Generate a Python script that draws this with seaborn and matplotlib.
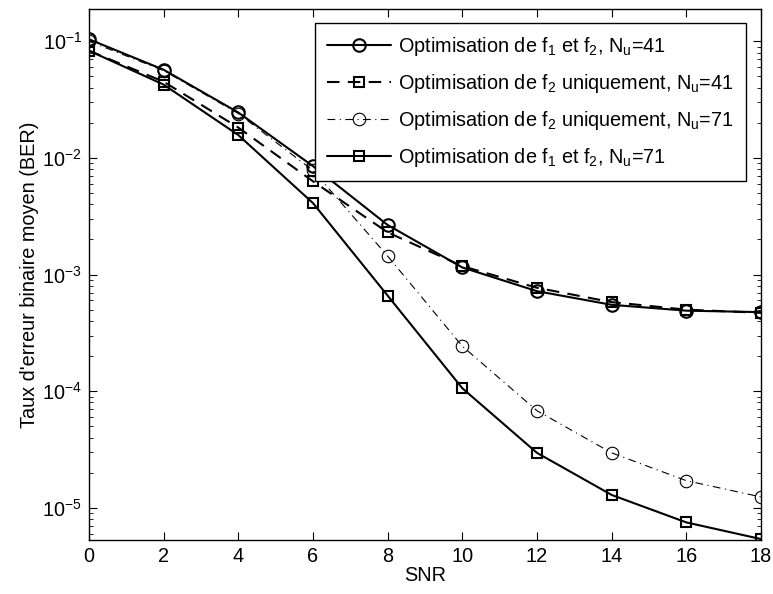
import matplotlib
matplotlib.use("Agg")
import matplotlib.pyplot as plt
import seaborn as sns
import numpy as np
from matplotlib.ticker import LogLocator, FixedLocator

# SNR points
snr = [0, 2, 4, 6, 8, 10, 12, 14, 16, 18]

# Bit error rates per configuration
ber_f1f2_nu41 = [0.104, 0.057, 0.0245, 0.0085, 0.00266, 0.00115, 0.00072, 0.00055, 0.00049, 0.000476]
ber_f2_nu41 = [0.083, 0.045, 0.0182, 0.0063, 0.0023, 0.00118, 0.00077, 0.00058, 0.000500, 0.00047]
ber_f2_nu71 = [0.100, 0.056, 0.024, 0.0078, 0.00144, 0.000243, 6.8e-5, 2.96e-5, 1.71e-5, 1.24e-5]
ber_f1f2_nu71 = [0.083, 0.0425, 0.0157, 0.0041, 0.00066, 0.000106, 2.96e-5, 1.29e-5, 7.5e-6, 5.4e-6]

labels = [
    "Optimisation de f$_1$ et f$_2$, N$_u$=41",
    "Optimisation de f$_2$ uniquement, N$_u$=41",
    "Optimisation de f$_2$ uniquement, N$_u$=71",
    "Optimisation de f$_1$ et f$_2$, N$_u$=71",
]

FS = 14.3

sns.set_style("ticks")
plt.rcParams["font.family"] = ["Liberation Sans", "DejaVu Sans"]
plt.rcParams["mathtext.fontset"] = "custom"
plt.rcParams["mathtext.rm"] = "Liberation Sans"
plt.rcParams["mathtext.it"] = "Liberation Sans:italic"
plt.rcParams["mathtext.default"] = "regular"
plt.rcParams["font.size"] = FS
plt.rcParams["text.color"] = "black"
plt.rcParams["axes.labelcolor"] = "black"

fig = plt.figure(figsize=(7.73, 5.94), dpi=100)
ax = fig.add_axes([0.115, 0.0909, 0.8695, 0.894])

common = dict(ax=ax, color="black", markerfacecolor="none", markeredgecolor="black")
sns.lineplot(x=snr, y=ber_f1f2_nu41, label=labels[0], linestyle="-", linewidth=1.5,
             marker="o", markersize=9, markeredgewidth=1.5, **common)
sns.lineplot(x=snr, y=ber_f2_nu41, label=labels[1], linewidth=1.5,
             marker="s", markersize=7, markeredgewidth=1.5, dashes=(6, 4), **common)
sns.lineplot(x=snr, y=ber_f2_nu71, label=labels[2], linewidth=0.8,
             marker="o", markersize=9, markeredgewidth=0.8, dashes=(7, 4, 1, 4), **common)
sns.lineplot(x=snr, y=ber_f1f2_nu71, label=labels[3], linestyle="-", linewidth=1.5,
             marker="s", markersize=7, markeredgewidth=1.5, **common)

ax.set_yscale("log")
ax.set_xlim(0, 18)
ax.set_ylim(5.3e-6, 0.189)
ax.xaxis.set_major_locator(FixedLocator(snr))
ax.yaxis.set_major_locator(LogLocator(base=10, numticks=10))
ax.yaxis.set_minor_locator(LogLocator(base=10, subs=np.arange(2, 10), numticks=10))

ax.tick_params(which="both", direction="in", top=True, right=True, colors="black",
               labelcolor="black", labelsize=FS)
ax.tick_params(which="major", length=6, width=0.8, pad=5)
ax.tick_params(which="minor", length=3, width=0.6)
for s in ax.spines.values():
    s.set_linewidth(1.0)
    s.set_color("black")

ax.set_xlabel("SNR", fontsize=FS, labelpad=0)
ax.set_ylabel("Taux d'erreur binaire moyen (BER)", fontsize=FS, labelpad=2)

leg = ax.legend(loc="upper right", bbox_to_anchor=(0.977, 0.974), borderaxespad=0,
                fontsize=FS, handlelength=3.2, labelspacing=0.7, handletextpad=0.35,
                borderpad=0.62, fancybox=False, framealpha=1, edgecolor="black")
leg.get_frame().set_linewidth(1.0)
for t in leg.get_texts():
    t.set_color("black")

fig.savefig("out.png", dpi=100)
